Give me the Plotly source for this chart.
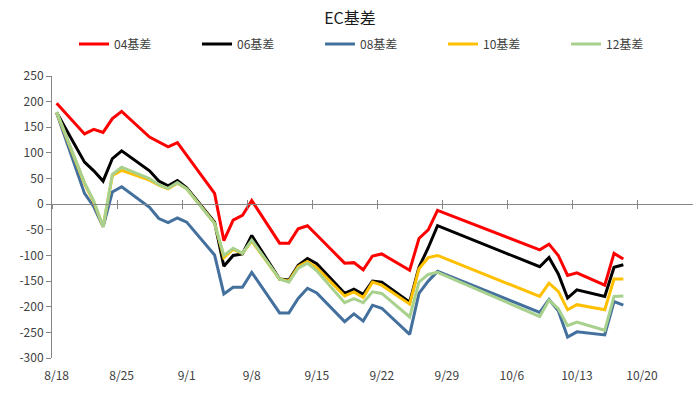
import plotly.graph_objects as go
import pandas as pd

dates = ["2023-08-18", "2023-08-21", "2023-08-22", "2023-08-23", "2023-08-24", "2023-08-25",
         "2023-08-28", "2023-08-29", "2023-08-30", "2023-08-31", "2023-09-01",
         "2023-09-04", "2023-09-05", "2023-09-06", "2023-09-07", "2023-09-08",
         "2023-09-11", "2023-09-12", "2023-09-13", "2023-09-14", "2023-09-15",
         "2023-09-18", "2023-09-19", "2023-09-20", "2023-09-21", "2023-09-22",
         "2023-09-25", "2023-09-26", "2023-09-27", "2023-09-28",
         "2023-10-09", "2023-10-10", "2023-10-11", "2023-10-12", "2023-10-13",
         "2023-10-16", "2023-10-17", "2023-10-18"]

basis_04 = [197, 137, 146, 140, 167, 181, 131, 122, 112, 120, 95, 21, -71, -31, -22, 7,
            -76, -76, -48, -42, -60, -115, -114, -128, -101, -97, -129, -67, -50, -12,
            -89, -78, -100, -139, -134, -158, -96, -107]
basis_06 = [179, 82, 65, 45, 89, 104, 65, 45, 36, 46, 32, -35, -121, -100, -97, -61,
            -146, -148, -119, -106, -116, -174, -166, -176, -150, -152, -191, -123, -85, -42,
            -122, -104, -136, -183, -167, -180, -123, -118]
basis_08 = [178, 21, -5, -44, 24, 34, -6, -28, -36, -27, -35, -99, -175, -162, -162, -133,
            -212, -212, -184, -164, -173, -229, -214, -228, -197, -203, -254, -174, -150, -131,
            -211, -186, -208, -259, -249, -255, -190, -197]
basis_10 = [179, 40, 4, -44, 56, 66, 47, 37, 30, 41, 30, -37, -104, -88, -96, -72,
            -146, -150, -122, -112, -124, -179, -171, -182, -152, -158, -195, -126, -104, -100,
            -180, -154, -170, -206, -196, -206, -146, -146]
basis_12 = [180, 42, 6, -44, 58, 72, 50, 38, 31, 42, 30, -38, -100, -86, -96, -70,
            -146, -152, -125, -115, -130, -192, -184, -192, -171, -174, -220, -152, -137, -133,
            -219, -187, -204, -237, -230, -246, -180, -179]

series_names = ["04基差", "06基差", "08基差", "10基差", "12基差"]
series_colors = ["#FF0000", "#000000", "#44709E", "#FFC000", "#A9D18E"]

tick_dates = ["2023-08-18", "2023-08-25", "2023-09-01", "2023-09-08", "2023-09-15",
              "2023-09-22", "2023-09-29", "2023-10-06", "2023-10-13", "2023-10-20"]
tick_labels = ["8/18", "8/25", "9/1", "9/8", "9/15", "9/22", "9/29", "10/6", "10/13", "10/20"]
y_ticks = [-300, -250, -200, -150, -100, -50, 0, 50, 100, 150, 200, 250]
y_tick_labels = ["-300", "-250", "-200", "-150", "-100", "-50", "0", "50", "100", "150", "200", "250"]

half_day = pd.Timedelta(hours=12)
x_vals = pd.to_datetime(dates) + half_day
x_range = ["2023-08-18", "2023-10-26"]
axis_color = "#868686"

fig = go.Figure()
for name, vals, color in zip(series_names, [basis_04, basis_06, basis_08, basis_10, basis_12], series_colors):
    fig.add_trace(go.Scatter(x=x_vals, y=vals, name=name, mode="lines",
                             line=dict(color=color, width=3)))

fig.add_trace(go.Scatter(x=[x_vals[0]], y=[None], xaxis="x2", showlegend=False, hoverinfo="skip"))
fig.add_trace(go.Scatter(x=[x_vals[0]], y=[None], xaxis="x3", showlegend=False, hoverinfo="skip"))

zero_pos = 300 / 550

fig.update_layout(
    width=700, height=416,
    margin=dict(l=52, r=7, t=76, b=58),
    paper_bgcolor="white", plot_bgcolor="white",
    font=dict(family="Noto Sans CJK SC", size=12, color="#404040"),
    title=dict(text="EC基差", x=0.5, xanchor="center", y=1 - 18 / 416, yanchor="middle",
               font=dict(size=16, color="#1a1a1a")),
    xaxis=dict(range=x_range, tickvals=pd.to_datetime(tick_dates) + half_day, ticktext=tick_labels,
               showline=False, showgrid=False, zeroline=False,
               ticks="outside", tickcolor="rgba(0,0,0,0)", ticklen=7),
    xaxis2=dict(overlaying="x", anchor="free", position=zero_pos, range=x_range,
                tickvals=tick_dates, showticklabels=False, showline=True, linecolor=axis_color,
                linewidth=1, ticks="outside", ticklen=4, tickcolor=axis_color,
                showgrid=False, zeroline=False),
    xaxis3=dict(overlaying="x", anchor="free", position=zero_pos, range=x_range,
                tickvals=tick_dates, showticklabels=False, showline=False,
                ticks="inside", ticklen=4, tickcolor=axis_color,
                showgrid=False, zeroline=False),
    yaxis=dict(range=[-300, 250], tickvals=y_ticks, ticktext=y_tick_labels,
               showline=True, linecolor=axis_color, linewidth=1,
               ticks="outside", ticklen=5, tickcolor=axis_color,
               showgrid=False, zeroline=False),
    legend=dict(orientation="h", x=(74 - 52) / 641, xanchor="left", y=1 + 32 / 281.7, yanchor="middle",
                entrywidth=78, entrywidthmode="pixels", font=dict(size=12, color="#404040"),
                bgcolor="rgba(0,0,0,0)"),
    showlegend=True,
)

fig.write_html("out.html")
